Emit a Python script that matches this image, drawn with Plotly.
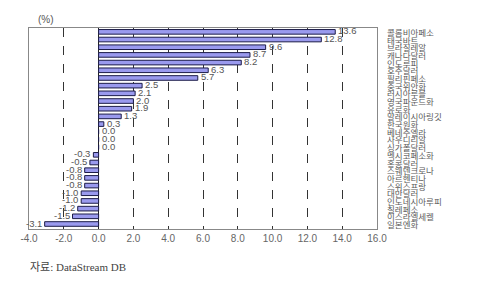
import plotly.graph_objects as go

categories = ["콜롬비아페소", "태국바트", "브라질레알", "캐나다달러", "인도루피", "호주달러",
              "필리핀페소", "중국위안화", "러시아루블", "영국파운드화", "유로화", "말레이시아링깃",
              "한국원화", "베네주엘라", "사우디리알", "싱가폴달러", "멕시코페소화", "홍콩달러",
              "스웨덴크로나", "아르헨티나", "스위스프랑", "대만달러", "인도네시아루피", "칠레페소",
              "이스라엘세켈", "일본엔화"]
values = [13.6, 12.8, 9.6, 8.7, 8.2, 6.3, 5.7, 2.5, 2.1, 2.0, 1.9, 1.3, 0.3, 0.0, 0.0, 0.0,
          -0.3, -0.5, -0.8, -0.8, -0.8, -1.0, -1.0, -1.2, -1.5, -3.1]
x_ticks = [-4, -2, 0, 2, 4, 6, 8, 10, 12, 14, 16]
x_tick_labels = ["-4.0", "-2.0", "0.0", "2.0", "4.0", "6.0", "8.0", "10.0", "12.0", "14.0", "16.0"]
unit_label = "(%)"
source_label = "자료: DataStream DB"

fig = go.Figure()
fig.add_trace(go.Bar(
    x=values, y=categories, orientation="h",
    marker=dict(color="#9a9aee", line=dict(color="#1c1c48", width=1)),
    hoverinfo="skip",
))

annotations = []
for c, v in zip(categories, values):
    annotations.append(dict(
        x=v, xref="x", y=c, yref="y", text=f"{v:.1f}", showarrow=False,
        xanchor="left" if v >= 0 else "right", yanchor="middle",
        xshift=1 if v >= 0 else -1, yshift=1,
        font=dict(family="Liberation Sans, Arial, sans-serif", size=9.5, color="#555555"),
    ))
for c in categories:
    annotations.append(dict(
        x=1.023, xref="paper", y=c, yref="y", text=c, showarrow=False,
        xanchor="left", yanchor="middle",
        font=dict(family="Noto Sans CJK KR", size=8.5, color="#5a5a5a"),
    ))
annotations.append(dict(
    x=0.02, xref="paper", y=1.04, yref="paper", text=unit_label, showarrow=False,
    xanchor="left", yanchor="middle",
    font=dict(family="Liberation Sans, Noto Sans CJK KR", size=10, color="#555555"),
))
annotations.append(dict(
    x=-0.003, xref="paper", y=-0.19, yref="paper", text=source_label, showarrow=False,
    xanchor="left", yanchor="middle",
    font=dict(family="Liberation Serif, Noto Sans CJK KR", size=11, color="#444444"),
))

fig.update_layout(
    width=480, height=295,
    margin=dict(l=29, r=103, t=28, b=66),
    paper_bgcolor="white", plot_bgcolor="white",
    showlegend=False, bargap=0.4,
    annotations=annotations,
    xaxis=dict(
        range=[-4, 16], tickvals=x_ticks, ticktext=x_tick_labels,
        showgrid=True, gridcolor="#333333", gridwidth=1, griddash="dash",
        zeroline=True, zerolinecolor="#222222", zerolinewidth=1,
        showline=True, linecolor="#888888", linewidth=1, mirror=True,
        ticks="", tickfont=dict(family="Liberation Sans, Arial, sans-serif", size=10, color="#666666"),
        fixedrange=True,
    ),
    yaxis=dict(
        range=[25.65, -0.5], showticklabels=False, showgrid=False,
        showline=True, linecolor="#888888", linewidth=1, mirror=True, ticks="",
        fixedrange=True,
    ),
)

fig.write_html("out.html")
